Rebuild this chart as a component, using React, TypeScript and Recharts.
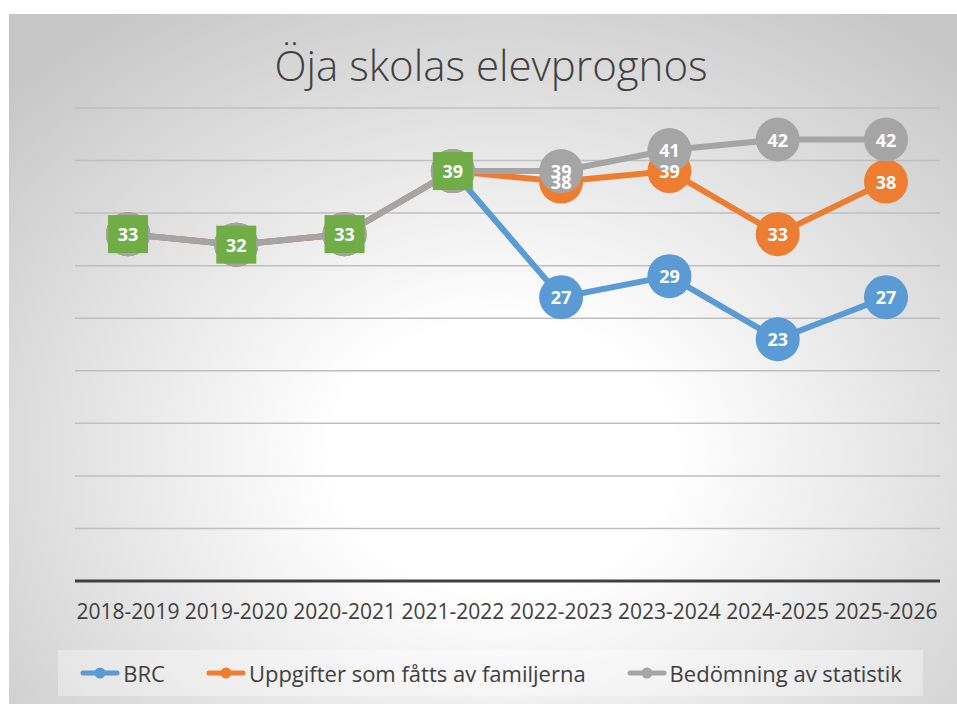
import { LineChart, Line, XAxis, YAxis, CartesianGrid, LabelList } from 'recharts'

const years = ['2018-2019', '2019-2020', '2020-2021', '2021-2022', '2022-2023', '2023-2024', '2024-2025', '2025-2026']
const brc = [33, 32, 33, 39, 27, 29, 23, 27]
const familjer = [33, 32, 33, 39, 38, 39, 33, 38]
const statistik = [33, 32, 33, 39, 39, 41, 42, 42]
const yTicks = [0, 5, 10, 15, 20, 25, 30, 35, 40, 45]

// the first four school years are actual figures (green squares)
const actualCount = 4

const series = [
  { key: 'brc', name: 'BRC', color: '#5b9bd5' },
  { key: 'familjer', name: 'Uppgifter som fåtts av familjerna', color: '#ed7d31' },
  { key: 'statistik', name: 'Bedömning av statistik', color: '#a5a5a5' },
]

const data = years.map((year, i) => ({
  year,
  brc: brc[i],
  familjer: familjer[i],
  statistik: statistik[i],
}))

const font = "'Open Sans', sans-serif"
const textColor = '#404040'

const GrayDot = (props: any) => {
  const { cx, cy, index } = props
  if (cx == null || cy == null) return null
  return (
    <g key={`gd-${index}`}>
      <circle cx={cx} cy={cy} r={22} fill="#a5a5a5" />
      {index < actualCount && (
        <rect x={cx - 20} y={cy - 19} width={40} height={38} fill="#70ad47" />
      )}
    </g>
  )
}

const makeLabel = (skipActual: boolean) => (props: any) => {
  const { x, y, value, index } = props
  if (value == null) return null
  if (skipActual && index < actualCount) return null
  return (
    <text
      key={`lbl-${index}`}
      x={x}
      y={y}
      textAnchor="middle"
      dominantBaseline="central"
      fill="#ffffff"
      fontSize={18}
      fontWeight={700}
      fontFamily={font}
    >
      {value}
    </text>
  )
}

const LegendBox = () => (
  <div
    style={{
      position: 'absolute',
      left: 58,
      top: 650,
      width: 865,
      height: 46,
      background: 'rgba(255,255,255,0.35)',
      display: 'flex',
      alignItems: 'center',
      justifyContent: 'center',
      gap: 40,
      fontFamily: font,
      fontSize: 22,
      color: textColor,
    }}
  >
    {series.map(s => (
      <div key={s.key} style={{ display: 'flex', alignItems: 'center' }}>
        <svg width={42} height={14} style={{ marginRight: 2 }}>
          <line x1={4} y1={7} x2={38} y2={7} stroke={s.color} strokeWidth={5} strokeLinecap="round" />
          <circle cx={21} cy={7} r={5.5} fill={s.color} />
        </svg>
        <span>{s.name}</span>
      </div>
    ))}
  </div>
)

export default function App() {
  return (
    <div style={{ position: 'absolute', left: 0, top: 0, width: 957, height: 704, background: '#ffffff', overflow: 'hidden' }}>
      <div
        style={{
          position: 'absolute',
          left: 9,
          top: 14,
          right: 0,
          bottom: 0,
          background: 'radial-gradient(ellipse 72% 78% at 52% 64%, #ffffff 25%, #c6c6c6 100%)',
        }}
      />
      <div
        style={{
          position: 'absolute',
          left: 0,
          width: 982,
          top: 36,
          textAlign: 'center',
          fontFamily: font,
          fontWeight: 300,
          fontSize: 42,
          color: textColor,
        }}
      >
        Öja skolas elevprognos
      </div>
      <div style={{ position: 'absolute', left: 0, top: 0 }}>
        <LineChart width={957} height={704} data={data} margin={{ top: 108, right: 17, bottom: 93, left: 75 }}>
          <CartesianGrid vertical={false} stroke="#bfbfbf" strokeWidth={1.5} />
          <YAxis hide domain={[0, 45]} ticks={yTicks} />
          <XAxis
            dataKey="year"
            height={30}
            interval={0}
            padding={{ left: 53, right: 54 }}
            axisLine={{ stroke: '#404040', strokeWidth: 3 }}
            tickLine={false}
            tickMargin={17}
            tick={{ fill: textColor, fontSize: 21, fontFamily: font }}
          />
          <Line dataKey="brc" name="BRC" stroke="#5b9bd5" strokeWidth={6} dot={{ r: 22, fill: '#5b9bd5', stroke: 'none' }} activeDot={false} isAnimationActive={false} />
          <Line dataKey="familjer" name="Uppgifter som fåtts av familjerna" stroke="#ed7d31" strokeWidth={6} dot={{ r: 22, fill: '#ed7d31', stroke: 'none' }} activeDot={false} isAnimationActive={false} />
          <Line dataKey="statistik" name="Bedömning av statistik" stroke="#a5a5a5" strokeWidth={6} dot={GrayDot} activeDot={false} isAnimationActive={false} />
          {/* label-only layers so every number sits above all markers */}
          <Line dataKey="brc" stroke="none" dot={false} activeDot={false} legendType="none" isAnimationActive={false}>
            <LabelList dataKey="brc" content={makeLabel(true)} />
          </Line>
          <Line dataKey="familjer" stroke="none" dot={false} activeDot={false} legendType="none" isAnimationActive={false}>
            <LabelList dataKey="familjer" content={makeLabel(true)} />
          </Line>
          <Line dataKey="statistik" stroke="none" dot={false} activeDot={false} legendType="none" isAnimationActive={false}>
            <LabelList dataKey="statistik" content={makeLabel(false)} />
          </Line>
        </LineChart>
      </div>
      <LegendBox />
    </div>
  )
}
